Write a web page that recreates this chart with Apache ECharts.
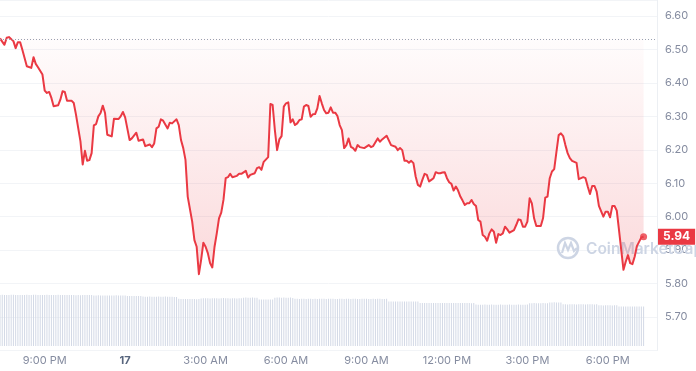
<!DOCTYPE html>
<html><head><meta charset="utf-8">
<script src="https://cdn.jsdelivr.net/npm/echarts@6/dist/echarts.min.js"></script>
<style>html,body{margin:0;padding:0;background:#fff}#c{width:696px;height:371px}</style>
</head><body><div id="c"></div>
<script>
// start of the 24h window: 19:20 on the 16th (minutes since midnight of the 16th)
const START_MIN = 19 * 60 + 20;

// price samples: minutes after start, price in USD
const priceTimes = [
  0,10,15,20,30,35,40,45,50,60,70,75,80,85,95,100,105,110,115,120,130,135,140,145,150,160,165,170,175,180,
  185,190,195,200,205,210,215,220,225,230,235,240,250,255,265,270,275,280,290,295,305,310,320,325,335,340,345,350,355,360,
  365,375,380,385,395,400,405,410,415,420,430,435,440,445,450,455,460,465,470,475,480,485,490,495,500,505,510,515,520,530,
  535,540,550,555,560,570,575,580,585,590,600,605,610,615,620,625,630,635,640,645,650,655,660,665,670,675,680,685,690,695,
  700,705,710,715,720,725,730,735,740,745,750,755,760,765,770,775,780,785,790,795,800,805,815,825,830,835,845,850,855,865,
  870,875,885,890,895,900,905,910,915,920,925,930,935,940,945,950,955,960,965,970,975,980,985,990,995,1000,1005,1010,1015,1020,
  1025,1030,1035,1040,1045,1050,1055,1060,1065,1070,1075,1080,1085,1090,1095,1100,1105,1110,1115,1120,1125,1130,1135,1140,1150,1155,1160,1165,1170,1175,
  1180,1185,1190,1195,1200,1210,1215,1220,1225,1230,1235,1240,1245,1250,1255,1260,1265,1270,1275,1280,1290,1295,1300,1305,1310,1315,1320,1325,1330,1335,
  1340,1350,1355,1360,1365,1370,1375,1380,1385,1390,1395,1400,1405,1410,1415,1420,1425,1435,1440
];
const priceValues = [
  6.533,6.514,6.535,6.537,6.525,6.504,6.522,6.522,6.499,6.450,6.445,6.477,6.457,6.447,6.425,6.377,6.370,6.373,6.355,6.330,6.333,6.350,6.375,6.373,6.347,6.347,6.340,6.305,6.265,6.225,
  6.156,6.197,6.167,6.169,6.190,6.273,6.277,6.300,6.310,6.332,6.310,6.245,6.240,6.293,6.292,6.300,6.313,6.297,6.229,6.234,6.251,6.227,6.231,6.211,6.216,6.208,6.219,6.264,6.269,6.291,
  6.287,6.264,6.281,6.279,6.291,6.274,6.229,6.205,6.170,6.060,5.985,5.930,5.910,5.828,5.871,5.922,5.910,5.891,5.861,5.848,5.910,5.950,5.995,6.012,6.050,6.115,6.118,6.128,6.118,6.122,
  6.128,6.128,6.137,6.117,6.125,6.130,6.145,6.148,6.140,6.164,6.178,6.337,6.334,6.259,6.199,6.231,6.241,6.329,6.339,6.342,6.282,6.291,6.274,6.279,6.289,6.291,6.329,6.334,6.331,6.299,
  6.306,6.307,6.324,6.361,6.339,6.319,6.309,6.311,6.327,6.311,6.311,6.301,6.274,6.259,6.205,6.214,6.234,6.209,6.205,6.197,6.214,6.208,6.205,6.214,6.208,6.211,6.234,6.224,6.231,6.242,
  6.228,6.214,6.209,6.199,6.205,6.199,6.167,6.167,6.161,6.167,6.160,6.120,6.095,6.090,6.110,6.128,6.125,6.105,6.110,6.115,6.133,6.130,6.130,6.132,6.133,6.115,6.103,6.098,6.078,6.090,
  6.078,6.060,6.048,6.035,6.040,6.040,6.050,6.038,6.032,5.990,5.985,5.945,5.940,5.928,5.950,5.962,5.955,5.922,5.948,5.945,5.950,5.970,5.962,5.952,5.960,5.975,5.992,5.990,5.970,5.970,
  5.985,6.055,6.040,5.995,5.972,5.972,5.995,6.057,6.060,6.115,6.135,6.142,6.194,6.244,6.249,6.241,6.214,6.190,6.175,6.167,6.161,6.112,6.115,6.118,6.115,6.090,6.068,6.092,6.092,6.075,
  6.032,6.000,6.015,6.015,5.998,6.032,6.032,6.018,5.960,5.900,5.841,5.865,5.885,5.861,5.858,5.880,5.912,5.938,5.940
];

// 5-minute volume bars (relative units), one row per hour
const VOLUME_STEP = 5;
const volumeValues = [
  51.0,51.2,51.1,50.9,51.0,51.2,51.3,51.1,51.0,50.9,51.0,51.1,
  51.2,51.0,51.1,51.3,51.2,51.0,50.9,51.0,51.1,51.2,51.0,50.9,
  51.0,51.1,51.2,51.0,50.9,51.0,51.1,51.0,50.9,51.0,50.8,50.9,
  50.8,50.9,51.0,51.1,51.0,50.9,50.6,50.5,50.7,50.6,50.4,50.5,
  50.6,50.5,50.4,50.6,50.7,50.5,50.4,50.6,50.5,50.1,50.0,49.9,
  50.0,50.1,49.9,50.0,49.4,49.3,49.2,49.4,49.3,49.2,49.3,49.4,
  49.3,49.2,49.4,49.3,49.2,49.3,49.1,49.0,47.2,47.0,46.9,47.1,
  47.0,46.9,47.1,47.0,46.8,47.0,47.6,47.7,47.8,47.7,47.6,47.8,
  47.7,47.8,47.6,47.7,47.9,47.8,47.7,47.6,47.8,47.7,47.6,47.7,
  47.8,48.3,48.4,48.2,48.3,48.4,48.3,48.2,46.6,46.5,46.4,46.6,
  46.5,46.4,46.6,48.2,48.4,48.5,48.3,48.4,48.2,48.3,48.4,48.1,
  47.3,47.2,47.1,47.3,47.2,47.1,47.2,47.3,47.1,47.2,47.0,47.2,
  47.3,47.2,47.1,47.2,47.3,47.2,47.1,47.0,47.2,47.3,47.1,47.2,
  47.2,47.1,47.3,47.2,47.0,47.1,47.2,47.3,47.2,47.1,47.0,47.2,
  47.1,47.2,47.3,47.1,47.0,47.2,44.6,44.5,44.4,44.6,44.5,44.4,
  44.5,44.6,44.4,44.5,44.6,44.5,44.4,44.5,43.1,43.0,42.9,43.0,
  43.1,43.0,42.9,43.0,43.1,43.0,42.9,43.1,43.0,42.9,43.0,43.1,
  43.0,42.9,43.0,43.1,43.0,42.9,43.0,42.8,42.9,41.4,41.3,41.2,
  41.3,41.4,41.2,41.3,41.4,41.3,41.2,41.3,41.4,41.3,41.2,41.3,
  41.4,41.3,41.2,41.3,41.4,41.3,41.2,41.3,41.4,42.7,42.8,42.9,
  42.8,42.7,42.8,42.9,42.8,42.7,43.5,43.6,43.7,43.6,43.5,43.6,
  41.8,41.7,41.6,41.7,41.8,41.7,41.6,41.7,41.8,41.7,41.6,41.7,
  41.8,41.7,41.6,41.7,40.8,40.7,40.6,40.7,40.8,40.7,40.6,40.7,
  40.8,39.6,39.5,39.4,39.5,39.6,39.5,39.4,39.5,39.6,39.5,39.4,
  39.5
];

// x tick labels (minutes since midnight of the 16th)
const xTickValues = [1260, 1440, 1620, 1800, 1980, 2160, 2340, 2520];
const xTickLabels = ['9:00 PM', '17', '3:00 AM', '6:00 AM', '9:00 AM', '12:00 PM', '3:00 PM', '6:00 PM'];
const dayTick = '17';

const FONT = 'Inter, "Noto Sans", sans-serif';
const RED = '#ea3943';
const baseline = priceValues[0];
const lastPrice = priceValues[priceValues.length - 1];
const lastTime = START_MIN + priceTimes[priceTimes.length - 1];

const priceData = priceTimes.map((t, i) => [START_MIN + t, priceValues[i]]);
const volumeData = volumeValues.map((v, i) => [START_MIN + VOLUME_STEP * i, v]);

const X_MIN = 1160, X_MAX = 2630, X_STEP = 20;

const chart = echarts.init(document.getElementById('c'), null, {renderer: 'canvas'});
chart.setOption({
  animation: false,
  backgroundColor: '#ffffff',
  textStyle: {fontFamily: FONT},
  grid: [
    {left: 0, right: 39, top: 0, bottom: 20.6},
    {left: 0, right: 39, top: 286, bottom: 25}
  ],
  xAxis: [
    {type: 'value', gridIndex: 0, min: X_MIN, max: X_MAX, interval: X_STEP, show: false},
    {
      type: 'value', gridIndex: 1, min: X_MIN, max: X_MAX, interval: X_STEP,
      axisLine: {show: false},
      axisTick: {show: false},
      splitLine: {show: false},
      axisLabel: {
        margin: 9, fontSize: 11, color: '#858ca0', fontFamily: FONT,
        showMaxLabel: false, showMinLabel: false,
        formatter: function (v) {
          const k = xTickValues.indexOf(v);
          if (k < 0) return '';
          const s = xTickLabels[k];
          return s === dayTick ? '{d|' + s + '}' : s;
        },
        rich: {d: {fontWeight: 'bold', color: '#58667e', fontSize: 11, fontFamily: FONT}}
      }
    }
  ],
  yAxis: [
    {
      type: 'value', gridIndex: 0, position: 'right', min: 5.6, max: 6.648, interval: 0.1,
      axisLine: {show: true, lineStyle: {color: '#eceff3'}},
      axisTick: {show: false},
      splitLine: {lineStyle: {color: '#f2f4f7'}},
      axisLabel: {
        margin: 8, fontSize: 11, color: '#858ca0', fontFamily: FONT, showMaxLabel: false,
        formatter: function (v) { return (v < 5.65 || v > 6.61) ? '' : v.toFixed(2); }
      }
    },
    {type: 'value', gridIndex: 1, min: 0, max: 60, show: false}
  ],
  graphic: [
    {type: 'circle', z: 1, shape: {cx: 568, cy: 248, r: 10}, style: {fill: 'none', stroke: '#cdd5e4', lineWidth: 2.5}},
    {type: 'polyline', z: 1, shape: {points: [[562, 253], [565, 243], [568, 250], [571, 243], [574, 251], [577, 248]]},
      style: {fill: 'none', stroke: '#cdd5e4', lineWidth: 2.2}},
    {type: 'text', z: 1, x: 586, y: 249, style: {text: 'CoinMarketCap', font: '600 15.5px Inter', fill: '#cdd5e4', verticalAlign: 'middle'}}
  ],
  series: [
    {
      type: 'bar', xAxisIndex: 1, yAxisIndex: 1, data: volumeData, barWidth: 1,
      itemStyle: {color: '#d3d9e6'}, silent: true, z: 1
    },
    {
      type: 'line', xAxisIndex: 0, yAxisIndex: 0, data: priceData, showSymbol: false, symbol: 'none',
      lineStyle: {width: 2, color: RED, join: 'round'},
      areaStyle: {
        origin: baseline,
        color: new echarts.graphic.LinearGradient(0, 0, 0, 1, [
          {offset: 0, color: 'rgba(234,57,67,0.02)'},
          {offset: 1, color: 'rgba(234,57,67,0.27)'}
        ])
      },
      z: 3,
      markLine: {
        silent: true, symbol: ['none', 'none'], animation: false,
        data: [
          {yAxis: baseline, lineStyle: {color: '#9aa1b1', type: [1, 2], width: 1}, label: {show: false}},
          {yAxis: lastPrice, lineStyle: {color: 'rgba(0,0,0,0)', width: 0},
            label: {show: true, position: 'end', distance: 1, formatter: lastPrice.toFixed(2),
              backgroundColor: RED, color: '#fff', fontWeight: 'bold', fontSize: 12, lineHeight: 14,
              padding: [1, 5, 1, 5], fontFamily: FONT}}
        ]
      }
    },
    {
      type: 'scatter', xAxisIndex: 0, yAxisIndex: 0, data: [[lastTime, lastPrice]],
      symbolSize: 7, itemStyle: {color: RED}, z: 4, silent: true
    }
  ]
});
</script>
</body></html>
